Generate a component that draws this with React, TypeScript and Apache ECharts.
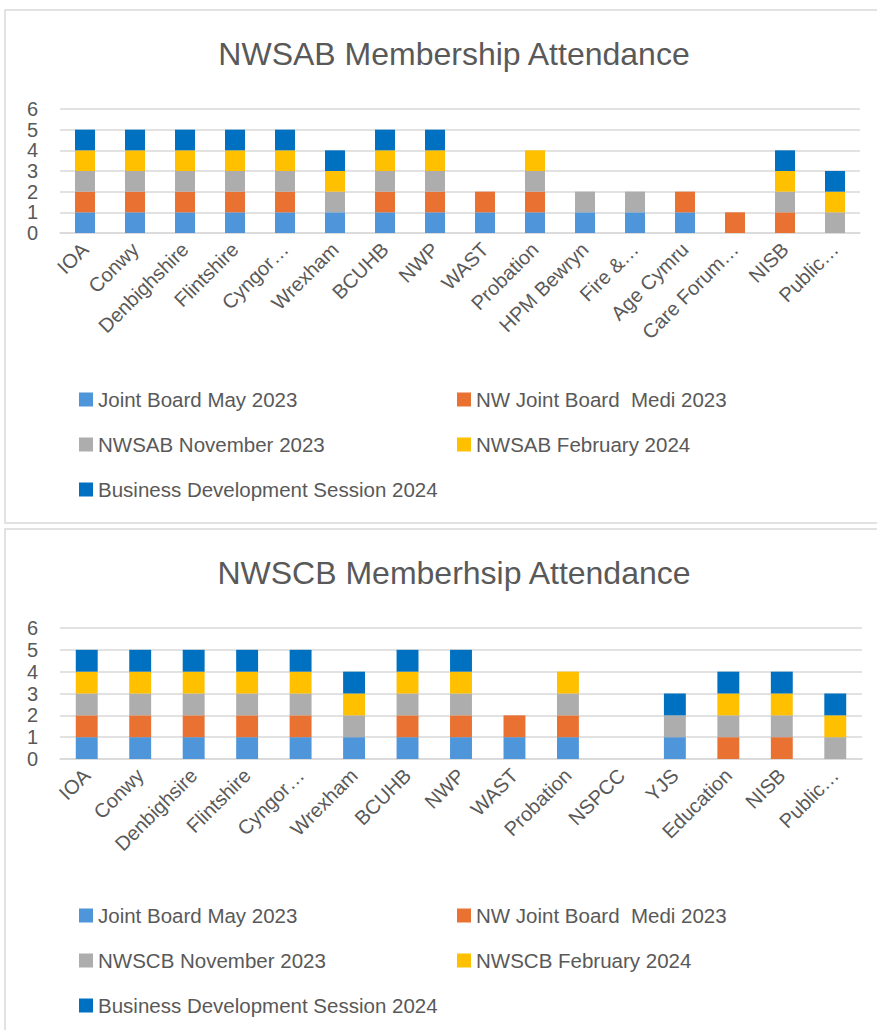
import React, { useEffect, useRef } from "react";
import * as echarts from "echarts";

const sabCategories = ["IOA", "Conwy", "Denbighshire", "Flintshire", "Cyngor…", "Wrexham", "BCUHB", "NWP", "WAST", "Probation", "HPM Bewryn", "Fire &…", "Age Cymru", "Care Forum…", "NISB", "Public…"];
const sabMay2023 = [1, 1, 1, 1, 1, 1, 1, 1, 1, 1, 1, 1, 1, 0, 0, 0];
const sabMedi2023 = [1, 1, 1, 1, 1, 0, 1, 1, 1, 1, 0, 0, 1, 1, 1, 0];
const sabNov2023 = [1, 1, 1, 1, 1, 1, 1, 1, 0, 1, 1, 1, 0, 0, 1, 1];
const sabFeb2024 = [1, 1, 1, 1, 1, 1, 1, 1, 0, 1, 0, 0, 0, 0, 1, 1];
const sabBDS2024 = [1, 1, 1, 1, 1, 1, 1, 1, 0, 0, 0, 0, 0, 0, 1, 1];

const scbCategories = ["IOA", "Conwy", "Denbighsire", "Flintshire", "Cyngor…", "Wrexham", "BCUHB", "NWP", "WAST", "Probation", "NSPCC", "YJS", "Education", "NISB", "Public…"];
const scbMay2023 = [1, 1, 1, 1, 1, 1, 1, 1, 1, 1, 0, 1, 0, 0, 0];
const scbMedi2023 = [1, 1, 1, 1, 1, 0, 1, 1, 1, 1, 0, 0, 1, 1, 0];
const scbNov2023 = [1, 1, 1, 1, 1, 1, 1, 1, 0, 1, 0, 1, 1, 1, 1];
const scbFeb2024 = [1, 1, 1, 1, 1, 1, 1, 1, 0, 1, 0, 0, 1, 1, 1];
const scbBDS2024 = [1, 1, 1, 1, 1, 1, 1, 1, 0, 0, 0, 1, 1, 1, 1];

const yTicks = [0, 1, 2, 3, 4, 5, 6];

const sabNames = ["Joint Board May 2023", "NW Joint Board  Medi 2023", "NWSAB November 2023", "NWSAB February 2024", "Business Development Session 2024"];
const scbNames = ["Joint Board May 2023", "NW Joint Board  Medi 2023", "NWSCB November 2023", "NWSCB February 2024", "Business Development Session 2024"];
const colors = ["#4E95D9", "#E97132", "#ADADAD", "#FFC000", "#0070C0"];

const FONT = "'Liberation Sans', Arial, sans-serif";
const TXT = "#595959";

export default function App() {
  const ref = useRef<HTMLDivElement>(null);
  useEffect(() => {
    if (!ref.current) return;
    const chart = echarts.init(ref.current, null, { renderer: "svg" });
    const sabData = [sabMay2023, sabMedi2023, sabNov2023, sabFeb2024, sabBDS2024];
    const scbData = [scbMay2023, scbMedi2023, scbNov2023, scbFeb2024, scbBDS2024];
    const series: any[] = [];
    sabData.forEach((d, i) => {
      series.push({
        type: "bar", name: sabNames[i], stack: "sab", data: d, xAxisIndex: 0, yAxisIndex: 0,
        barWidth: "40%", itemStyle: { color: colors[i] },
      });
    });
    scbData.forEach((d, i) => {
      series.push({
        type: "bar", name: scbNames[i], stack: "scb", data: d, xAxisIndex: 1, yAxisIndex: 1,
        barWidth: "41%", itemStyle: { color: colors[i] },
      });
    });
    const xAxisBase = (idx: number, cats: string[]) => ({
      type: "category", gridIndex: idx, data: cats,
      axisLine: { lineStyle: { color: "#D9D9D9", width: 1.5 } },
      axisTick: { show: false },
      axisLabel: { rotate: 45, color: TXT, fontSize: 20, fontFamily: FONT, margin: 13, interval: 0 },
    });
    const yAxisBase = (idx: number) => ({
      type: "value", gridIndex: idx, min: yTicks[0], max: yTicks[yTicks.length - 1], interval: 1,
      axisLine: { show: false }, axisTick: { show: false },
      axisLabel: { color: TXT, fontSize: 20, fontFamily: FONT, margin: 22 },
      splitLine: { lineStyle: { color: "#D9D9D9", width: 1.5 } },
    });
    const legendBase = {
      orient: "vertical", icon: "rect", itemWidth: 14, itemHeight: 14, itemGap: 24,
      textStyle: { color: TXT, fontSize: 20.5, fontFamily: FONT, lineHeight: 20 },
    };
    chart.setOption({
      animation: false,
      backgroundColor: "#ffffff",
      title: [
        { text: "NWSAB Membership Attendance", left: 449, top: 33, textAlign: "center",
          textStyle: { color: TXT, fontSize: 32, fontWeight: "normal", fontFamily: FONT } },
        { text: "NWSCB Memberhsip Attendance", left: 449, top: 552, textAlign: "center",
          textStyle: { color: TXT, fontSize: 32, fontWeight: "normal", fontFamily: FONT } },
      ],
      graphic: [
        { type: "rect", shape: { x: 5, y: 10, width: 900, height: 513 }, style: { fill: "none", stroke: "#D9D9D9", lineWidth: 1.5 }, silent: true },
        { type: "rect", shape: { x: 5, y: 529, width: 900, height: 600 }, style: { fill: "none", stroke: "#D9D9D9", lineWidth: 1.5 }, silent: true },
      ],
      legend: [
        { ...legendBase, left: 74, top: 384, data: [sabNames[0], sabNames[2], sabNames[4]] },
        { ...legendBase, left: 452, top: 384, data: [sabNames[1], sabNames[3]] },
        { ...legendBase, left: 74, top: 900, data: [scbNames[0], scbNames[2], scbNames[4]] },
        { ...legendBase, left: 452, top: 900, data: [scbNames[1], scbNames[3]] },
      ],
      grid: [
        { left: 60, right: 17, top: 109, height: 124 },
        { left: 60, right: 15, top: 628, height: 131 },
      ],
      xAxis: [xAxisBase(0, sabCategories), xAxisBase(1, scbCategories)],
      yAxis: [yAxisBase(0), yAxisBase(1)],
      series,
    });
    return () => chart.dispose();
  }, []);
  return <div ref={ref} style={{ position: "absolute", left: 0, top: 0, width: 877, height: 1030 }} />;
}
